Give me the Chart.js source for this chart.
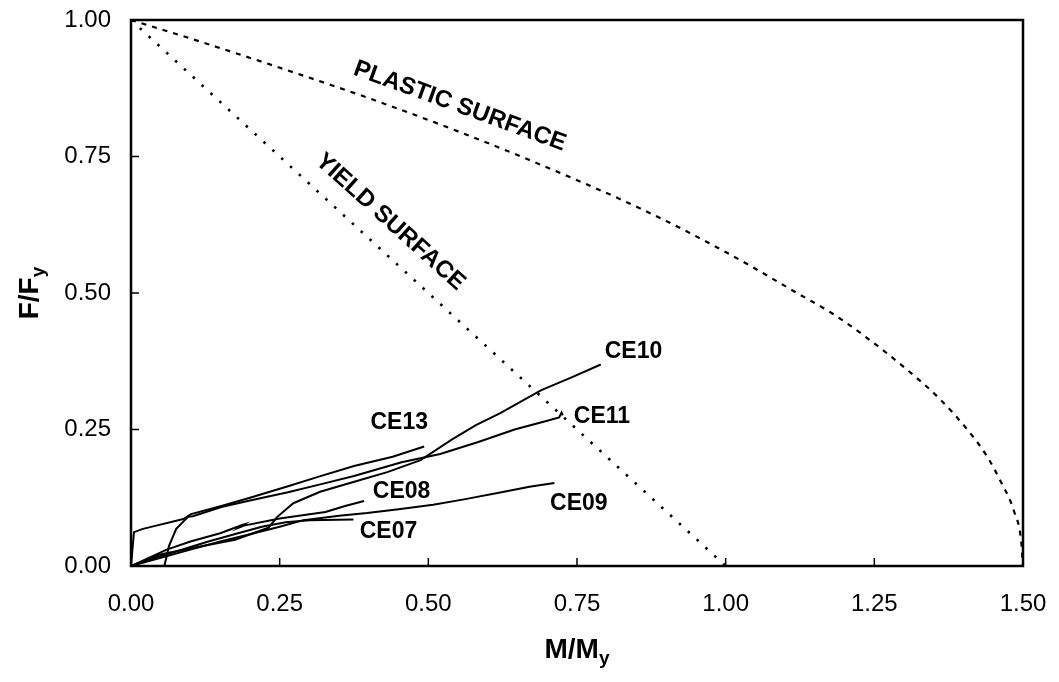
<!DOCTYPE html>
<html>
<head>
<meta charset="utf-8">
<script src="https://cdn.jsdelivr.net/npm/chart.js@4.4.1/dist/chart.umd.min.js"></script>
<style>
  html, body { margin: 0; padding: 0; background: #fff; }
</style>
</head>
<body>
<canvas id="chart" width="1059" height="682"></canvas>
<script>
// Axis ticks
const xTicks = [0, 0.25, 0.5, 0.75, 1.0, 1.25, 1.5];
const yTicks = [0, 0.25, 0.5, 0.75, 1.0];

// Interaction surfaces (M/My vs F/Fy)
const yieldM = [0, 1.0];
const yieldF = [1.0, 0];
const plasticM = [0, 0.08, 0.16, 0.26, 0.41, 0.55, 0.66, 0.86, 1.0, 1.12, 1.18, 1.23, 1.30, 1.36, 1.41, 1.44, 1.46, 1.485, 1.497, 1.5];
const plasticF = [1.0, 0.973, 0.945, 0.909, 0.853, 0.796, 0.748, 0.653, 0.575, 0.50, 0.462, 0.424, 0.364, 0.306, 0.245, 0.20, 0.16, 0.10, 0.045, 0];

// Specimen response curves
const ce07M = [0, 0.04, 0.08, 0.13, 0.18, 0.22, 0.26, 0.30, 0.374];
const ce07F = [0, 0.015, 0.028, 0.045, 0.060, 0.072, 0.080, 0.084, 0.085];

const ce08M = [0, 0.03, 0.06, 0.10, 0.15, 0.187, 0.19, 0.183, 0.19, 0.25, 0.327, 0.36, 0.392];
const ce08F = [0, 0.015, 0.030, 0.045, 0.060, 0.075, 0.076, 0.071, 0.074, 0.087, 0.099, 0.110, 0.119];

const ce09M = [0, 0.05, 0.10, 0.15, 0.20, 0.25, 0.29, 0.35, 0.397, 0.45, 0.508, 0.56, 0.623, 0.67, 0.712];
const ce09F = [0, 0.015, 0.030, 0.045, 0.058, 0.072, 0.084, 0.092, 0.097, 0.104, 0.112, 0.122, 0.135, 0.145, 0.152];

const ce10M = [0, 0.045, 0.103, 0.175, 0.231, 0.246, 0.273, 0.318, 0.374, 0.431, 0.487, 0.54, 0.58, 0.621, 0.69, 0.74, 0.79];
const ce10F = [0, 0.020, 0.033, 0.048, 0.070, 0.090, 0.115, 0.136, 0.154, 0.172, 0.194, 0.232, 0.258, 0.280, 0.322, 0.345, 0.369];

const ce11M = [0.056, 0.060, 0.064, 0.076, 0.096, 0.104, 0.152, 0.20, 0.264, 0.32, 0.375, 0.455, 0.52, 0.584, 0.645, 0.70, 0.72, 0.724, 0.726];
const ce11F = [0, 0.018, 0.037, 0.068, 0.090, 0.091, 0.108, 0.120, 0.135, 0.150, 0.165, 0.190, 0.205, 0.227, 0.250, 0.266, 0.272, 0.281, 0.276];

const ce13M = [0, 0.002, 0.005, 0.02, 0.039, 0.088, 0.101, 0.152, 0.20, 0.264, 0.32, 0.375, 0.44, 0.493];
const ce13F = [0, 0.025, 0.062, 0.068, 0.073, 0.086, 0.095, 0.110, 0.125, 0.146, 0.165, 0.183, 0.200, 0.219];

const curveNames = ['CE07', 'CE08', 'CE09', 'CE10', 'CE11', 'CE13'];

const FONT = '"Liberation Sans", Arial, Helvetica, sans-serif';

function pts(m, f) {
    return m.map((v, i) => ({ x: v, y: f[i] }));
}

function curve(m, f) {
    return {
        data: pts(m, f),
        showLine: true,
        borderColor: '#000',
        borderWidth: 2,
        pointRadius: 0,
        fill: false,
        tension: 0
    };
}

// Where each text label sits, in data units
const labelAnchors = {
    CE07: [0.433, 0.062],
    CE08: [0.455, 0.136],
    CE09: [0.753, 0.114],
    CE10: [0.845, 0.392],
    CE11: [0.792, 0.273],
    CE13: [0.451, 0.262]
};
const surfaceLabels = [
    { text: 'PLASTIC SURFACE', at: [0.553, 0.842], angle: 20 },
    { text: 'YIELD SURFACE', at: [0.436, 0.630], angle: 42 }
];

// Draw "main" followed by a subscript, centred on (cx, cy)
function drawSubscripted(ctx, main, sub, cx, cy, size) {
    ctx.font = `bold ${size}px ${FONT}`;
    const w1 = ctx.measureText(main).width;
    const subSize = Math.round(size * 0.68);
    ctx.font = `bold ${subSize}px ${FONT}`;
    const w2 = ctx.measureText(sub).width;
    const start = cx - (w1 + w2) / 2;
    ctx.textAlign = 'left';
    ctx.textBaseline = 'middle';
    ctx.font = `bold ${size}px ${FONT}`;
    ctx.fillText(main, start, cy);
    ctx.font = `bold ${subSize}px ${FONT}`;
    ctx.fillText(sub, start + w1, cy + size * 0.32);
}

const decorations = {
    id: 'decorations',
    afterDatasetsDraw(chart) {
        const { ctx, chartArea: a, scales: { x, y } } = chart;
        ctx.save();
        ctx.strokeStyle = '#000';
        ctx.fillStyle = '#000';

        // plot frame
        ctx.lineWidth = 2.5;
        ctx.strokeRect(a.left, a.top, a.right - a.left, a.bottom - a.top);

        // inward tick marks
        ctx.lineWidth = 1.5;
        ctx.beginPath();
        xTicks.slice(1, -1).forEach(v => {
            const px = x.getPixelForValue(v);
            ctx.moveTo(px, a.bottom);
            ctx.lineTo(px, a.bottom - 8);
        });
        yTicks.slice(1, -1).forEach(v => {
            const py = y.getPixelForValue(v);
            ctx.moveTo(a.left, py);
            ctx.lineTo(a.left + 8, py);
        });
        ctx.stroke();

        // curve names
        ctx.font = `bold 23px ${FONT}`;
        ctx.textAlign = 'center';
        ctx.textBaseline = 'middle';
        curveNames.forEach(n => {
            const [m, f] = labelAnchors[n];
            ctx.fillText(n, x.getPixelForValue(m), y.getPixelForValue(f));
        });

        // surface names, rotated along their curves
        ctx.font = `bold 24px ${FONT}`;
        surfaceLabels.forEach(s => {
            ctx.save();
            ctx.translate(x.getPixelForValue(s.at[0]), y.getPixelForValue(s.at[1]));
            ctx.rotate(s.angle * Math.PI / 180);
            ctx.fillText(s.text, 0, 0);
            ctx.restore();
        });

        // axis titles
        drawSubscripted(ctx, 'M/M', 'y', (a.left + a.right) / 2, a.bottom + 84, 28);
        ctx.save();
        ctx.translate(30, (a.top + a.bottom) / 2);
        ctx.rotate(-Math.PI / 2);
        drawSubscripted(ctx, 'F/F', 'y', 0, 0, 28);
        ctx.restore();

        ctx.restore();
    }
};

// keep the plot box fixed: no extra room for overhanging edge labels
function noEdgePadding(s) {
    s.paddingTop = 0;
    s.paddingBottom = 0;
    s.paddingLeft = 0;
    s.paddingRight = 0;
}

const ctx = document.getElementById('chart').getContext('2d');
new Chart(ctx, {
    type: 'scatter',
    data: {
        datasets: [
            {
                data: pts(yieldM, yieldF),
                showLine: true,
                borderColor: '#000',
                borderWidth: 2.6,
                borderDash: [2.5, 9.5],
                pointRadius: 0
            },
            {
                data: pts(plasticM, plasticF),
                showLine: true,
                borderColor: '#000',
                borderWidth: 2.2,
                borderDash: [5, 6],
                pointRadius: 0,
                cubicInterpolationMode: 'monotone'
            },
            curve(ce07M, ce07F),
            curve(ce08M, ce08F),
            curve(ce09M, ce09F),
            curve(ce10M, ce10F),
            curve(ce11M, ce11F),
            curve(ce13M, ce13F)
        ]
    },
    options: {
        responsive: false,
        animation: false,
        devicePixelRatio: 1,
        layout: { padding: { top: 20, right: 36, left: 0, bottom: 0 } },
        plugins: {
            legend: { display: false },
            tooltip: { enabled: false }
        },
        scales: {
            x: {
                type: 'linear',
                min: 0,
                max: 1.5,
                afterBuildTicks: s => { s.ticks = xTicks.map(v => ({ value: v })); },
                afterFit: s => { s.height = 116; noEdgePadding(s); },
                ticks: {
                    color: '#000',
                    font: { family: FONT, size: 24 },
                    padding: 24,
                    maxRotation: 0,
                    callback: v => Number(v).toFixed(2)
                },
                grid: { display: false, drawTicks: false },
                border: { display: false }
            },
            y: {
                type: 'linear',
                min: 0,
                max: 1,
                afterBuildTicks: s => { s.ticks = yTicks.map(v => ({ value: v })); },
                afterFit: s => { s.width = 131; noEdgePadding(s); },
                ticks: {
                    color: '#000',
                    font: { family: FONT, size: 24 },
                    padding: 20,
                    callback: v => Number(v).toFixed(2)
                },
                grid: { display: false, drawTicks: false },
                border: { display: false }
            }
        }
    },
    plugins: [decorations]
});
</script>
</body>
</html>
